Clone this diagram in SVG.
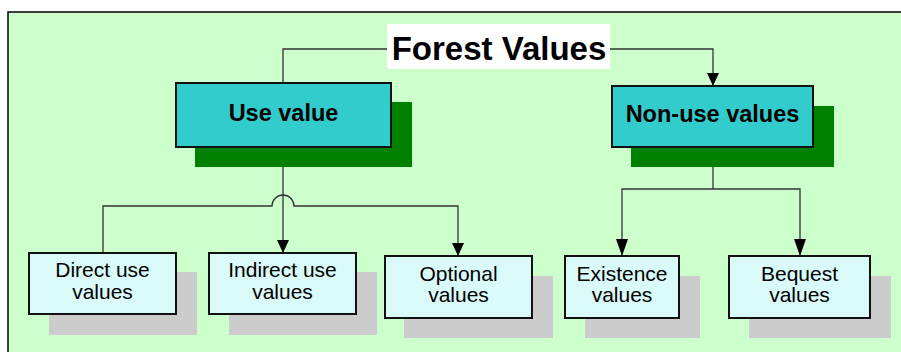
<svg xmlns="http://www.w3.org/2000/svg" width="901" height="352" viewBox="0 0 901 352">
  <style>
    .frame { fill: #CCFFCC; }
    .edge { fill: none; stroke: #000; stroke-width: 1.5; }
    .main { fill: #33CCCC; stroke: #111; stroke-width: 2; }
    .main-shadow { fill: #008000; }
    .leaf { fill: #D9FAF9; stroke: #111; stroke-width: 2; }
    .leaf-shadow { fill: #CCCCCC; }
    .link { fill: none; stroke: #333; stroke-width: 1.3; }
    .title { font-family: "Liberation Sans", Arial, sans-serif; font-weight: bold; font-size: 33px; fill: #000; }
    .head { font-family: "Liberation Sans", Arial, sans-serif; font-weight: bold; font-size: 23.5px; fill: #000; }
    .label { font-family: "Liberation Sans", Arial, sans-serif; font-size: 21px; fill: #000; }
  </style>
  <defs>
    <marker id="arrow" markerUnits="userSpaceOnUse" markerWidth="12" markerHeight="13" refX="6" refY="13" orient="0" viewBox="0 0 12 13">
      <path d="M0,0 L12,0 L6,13 Z" fill="#000"/>
    </marker>
    <marker id="arrow-tall" markerUnits="userSpaceOnUse" markerWidth="12" markerHeight="17" refX="6" refY="17" orient="0" viewBox="0 0 12 17">
      <path d="M0,0 L12,0 L6,17 Z" fill="#000"/>
    </marker>
  </defs>

  <!-- background panel -->
  <rect class="frame" x="8" y="12" width="893" height="340"/>
  <path class="edge" d="M8,352 V12 H901"/>

  <g id="connectors">
    <path class="link" d="M387,49 H283 V83"/>
    <path class="link" d="M610,49 H713 V86" marker-end="url(#arrow)"/>
    <path class="link" d="M283,147 V253" marker-end="url(#arrow)"/>
    <path class="link" d="M103,253 V206 H272 A11,11 0 0 1 294,206 H458 V256" marker-end="url(#arrow)"/>
    <path class="link" d="M713,147 V189"/>
    <path class="link" d="M713,189 H622 V256" marker-end="url(#arrow-tall)"/>
    <path class="link" d="M713,189 H800 V256" marker-end="url(#arrow-tall)"/>
  </g>

  <g id="forest-values">
    <rect x="387" y="24" width="223" height="45" fill="#FFFFFF"/>
    <text class="title" x="499" y="59.5" text-anchor="middle">Forest Values</text>
  </g>

  <g id="use-value">
    <rect class="main-shadow" x="195" y="102" width="217" height="65"/>
    <rect class="main" x="176" y="83" width="215" height="64"/>
    <text class="head" x="283.5" y="121" text-anchor="middle">Use value</text>
  </g>

  <g id="non-use-values">
    <rect class="main-shadow" x="631" y="106" width="203" height="61"/>
    <rect class="main" x="612" y="86" width="201" height="61"/>
    <text class="head" x="712.5" y="122" text-anchor="middle">Non-use values</text>
  </g>

  <g id="direct-use">
    <rect class="leaf-shadow" x="49" y="272" width="148" height="63"/>
    <rect class="leaf" x="29" y="253" width="147" height="61"/>
    <text class="label" x="102.5" y="277" text-anchor="middle">Direct use</text>
    <text class="label" x="102.5" y="298.5" text-anchor="middle">values</text>
  </g>

  <g id="indirect-use">
    <rect class="leaf-shadow" x="229" y="272" width="148" height="63"/>
    <rect class="leaf" x="209" y="253" width="147" height="61"/>
    <text class="label" x="282.5" y="277" text-anchor="middle">Indirect use</text>
    <text class="label" x="282.5" y="298.5" text-anchor="middle">values</text>
  </g>

  <g id="optional">
    <rect class="leaf-shadow" x="404" y="276" width="149" height="62"/>
    <rect class="leaf" x="385" y="256" width="147" height="62"/>
    <text class="label" x="458.5" y="281" text-anchor="middle">Optional</text>
    <text class="label" x="458.5" y="302" text-anchor="middle">values</text>
  </g>

  <g id="existence">
    <rect class="leaf-shadow" x="585" y="276" width="115" height="62"/>
    <rect class="leaf" x="565" y="256" width="114" height="62"/>
    <text class="label" x="622" y="281" text-anchor="middle">Existence</text>
    <text class="label" x="622" y="302" text-anchor="middle">values</text>
  </g>

  <g id="bequest">
    <rect class="leaf-shadow" x="749" y="276" width="142" height="62"/>
    <rect class="leaf" x="729" y="256" width="141" height="62"/>
    <text class="label" x="799.5" y="281" text-anchor="middle">Bequest</text>
    <text class="label" x="799.5" y="302" text-anchor="middle">values</text>
  </g>
</svg>
